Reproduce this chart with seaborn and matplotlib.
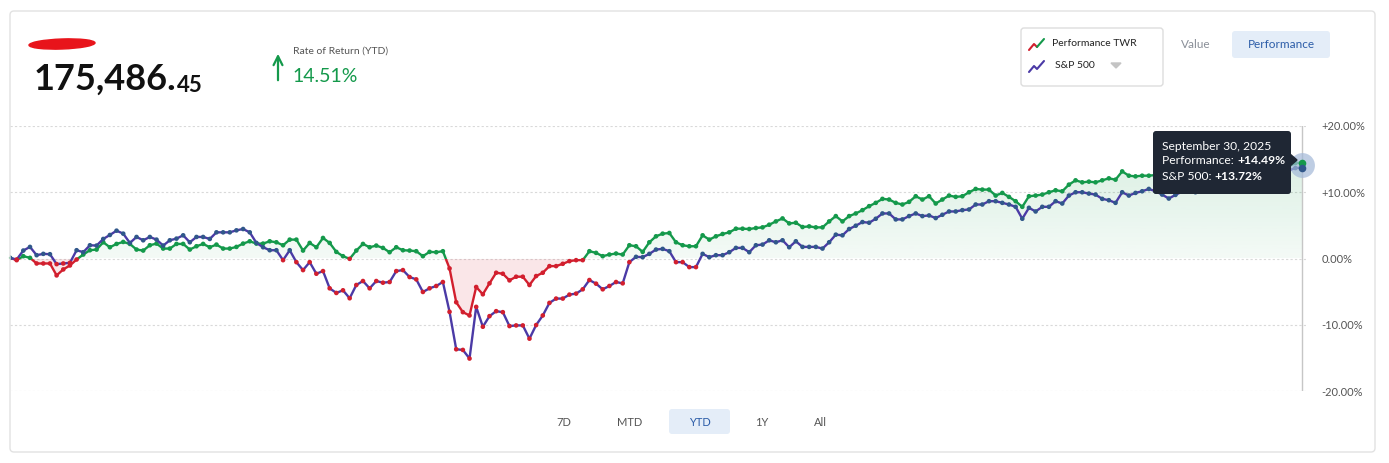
import numpy as np
import pandas as pd
import seaborn as sns
import matplotlib.pyplot as plt
from matplotlib.patches import FancyBboxPatch, Rectangle, Ellipse, Polygon, FancyArrowPatch
from matplotlib.path import Path

# Performance TWR (%), one value per trading day
twr = [0.1, -0.25, 0.35, 0.1, -0.75, -0.75, -0.75, -2.55, -1.65, -1.05,
       -0.15, 0.6, 1.25, 1.35, 2.45, 1.7, 2.2, 2.5, 2.2, 1.35,
       1.2, 2.0, 2.25, 1.5, 1.5, 2.2, 2.2, 1.35, 1.85, 2.2,
       1.7, 2.1, 1.5, 1.5, 1.75, 2.25, 2.6, 2.25, 2.25, 2.6,
       2.45, 2.0, 2.85, 2.85, 1.2, 2.35, 1.7, 3.1, 2.35, 1.0,
       0.35, -0.05, 1.2, 2.2, 1.7, 1.95, 1.6, 0.95, 1.7, 1.25,
       1.2, 1.1, 0.35, 1.0, 0.95, 1.1, -1.5, -6.6,
       -8.1, -8.6, -4.3, -5.4, -3.75, -2.15, -2.3, -3.3, -2.75, -2.75,
       -4.0, -2.65, -2.15, -1.15, -1.15, -0.8, -0.4, -0.25, -0.25, 1.1,
       0.85, 0.35, 0.6, 0.75, 0.6, 2.0, 1.85, 1.0, 2.45, 3.35,
       3.75, 3.85, 2.45, 2.0, 1.85, 1.85, 3.5, 2.85, 3.35, 3.7,
       3.95, 4.5, 4.5, 4.45, 4.6, 4.7, 5.1, 5.6, 6.05, 5.3,
       5.4, 4.75, 4.85, 4.7, 4.7, 5.6, 6.4, 5.6, 6.4, 6.8,
       7.3, 7.9, 8.4,
       9.0, 8.9, 8.4, 8.15, 8.55, 9.4, 8.9, 9.4, 8.3, 8.9,
       9.5, 9.3, 9.4, 10.0, 10.5, 10.4, 10.4, 9.5, 9.9, 9.3,
       8.65, 7.8, 9.4, 9.5, 9.65, 10.0, 10.3, 10.15, 11.15, 11.8,
       11.5, 11.6, 11.5, 11.8, 12.1, 11.9, 13.15, 12.5, 12.4, 12.5,
       12.5, 12.6, 12.4, 12.7,
       12.6, 12.5, 12.8, 12.6, 12.9, 13.1, 12.8, 13.0, 13.3, 13.1,
       13.4, 13.2, 13.5, 13.7, 13.5, 13.6, 13.8,
       13.9, 14.4, 14.49]

# S&P 500 (%) over the same days
spx = [0.1, -0.15, 1.2, 1.75, 0.5, 0.7, 0.65, -0.85, -0.75, -0.65,
       1.25, 0.95, 2.0, 1.95, 2.95, 3.55, 4.2, 3.75, 2.35, 3.25,
       2.75, 3.25, 2.85, 1.95, 2.75, 3.0, 3.5, 2.45, 3.25, 3.25,
       2.95, 3.95, 3.95, 3.95, 4.25, 4.45, 3.95, 2.35, 1.7, 1.25,
       1.25, -0.25, 1.25, -0.55, -1.75, -0.55, -2.3, -1.9, -4.5, -5.2,
       -4.8, -6.0, -4.0, -3.4, -4.5, -3.4, -3.65, -3.55, -1.9, -1.75,
       -2.8, -3.15, -5.05, -4.5, -4.15, -3.55, -8.05, -13.7,
       -13.8, -15.1, -7.3, -10.3, -8.7, -7.95, -8.1, -10.2, -10.1, -10.1,
       -12.1, -10.05, -8.6, -6.7, -6.05, -6.05, -5.45, -5.3, -4.65, -3.25,
       -3.8, -4.65, -4.15, -3.55, -3.75, -0.55, 0.25, 0.2, 0.7, 1.35,
       1.45, 1.1, -0.55, -0.55, -1.3, -1.3, 0.7, 0.2, 0.5, 0.5,
       0.95, 1.6, 1.6, 0.95, 2.0, 2.1, 2.75, 2.45, 2.75, 1.7,
       2.6, 1.75, 1.75, 1.75, 1.5, 2.45, 3.6, 3.5, 4.45, 4.95,
       5.5, 5.4, 6.0,
       6.8, 6.8, 5.9, 5.9, 6.4, 6.8, 6.4, 6.5, 6.1, 6.6,
       7.1, 7.1, 7.3, 7.4, 8.15, 8.15, 8.65, 8.65, 8.4, 8.15,
       7.8, 6.0, 7.65, 7.1, 7.8, 7.8, 8.65, 8.3, 9.5, 10.0,
       10.0, 9.8, 9.65, 9.0, 8.8, 8.4, 10.0, 9.5, 9.9, 10.15,
       10.5, 10.15, 9.65, 9.05,
       9.6, 10.1, 10.4, 10.0, 10.6, 10.9, 10.7, 11.2, 11.6, 11.4,
       11.9, 12.2, 12.0, 12.4, 12.8, 12.6, 13.0,
       13.3, 13.65, 13.72]

y_ticks = [-20, -10, 0, 10, 20]
y_tick_labels = ["-20.00%", "-10.00%", "0.00%", "+10.00%", "+20.00%"]
range_buttons = ["7D", "MTD", "YTD", "1Y", "All"]

GREEN = "#14994b"
RED = "#d21f2e"
PURPLE = "#4b3aa6"
SPX_DOT = "#30578a"
BLUE_TXT = "#2b5ca8"
BTN_BG = "#e4edf8"

df = pd.DataFrame({"day": np.arange(len(twr)), "twr": twr, "spx": spx})
last = df["day"].iloc[-1]

sns.set_style("white")
plt.rcParams["font.family"] = ["Lato", "DejaVu Sans"]

W, H = 1389, 463
fig = plt.figure(figsize=(W / 100, H / 100), dpi=100)

# chart area in pixels: x 10..1306, y 126 (+20%) .. 391 (-20%)
ax = fig.add_axes([10 / W, (H - 391) / H, 1296 / W, 265 / H])
step = 1292 / last

# light fills between TWR line and zero
pos = df["twr"].clip(lower=0)
neg = df["twr"].clip(upper=0)
poly = ax.fill_between(df["day"], pos, 0, facecolor="none", lw=0)
grad = np.zeros((256, 1, 4))
grad[:, 0, :3] = (0.08, 0.6, 0.29)
grad[:, 0, 3] = np.linspace(0.15, 0.05, 256)
clip = Path.make_compound_path(*poly.get_paths())
im = ax.imshow(grad, extent=[0, last, 0, 15], aspect="auto", origin="upper", zorder=1)
im.set_clip_path(clip, transform=ax.transData)
ax.fill_between(df["day"], neg, 0, color=RED, alpha=0.11, lw=0, zorder=1)
ax.set_xlim(0, 1296 / step)
ax.set_ylim(-20, 20)

# TWR line: green above zero, red below
sns.lineplot(data=df, x="day", y="twr", ax=ax, color=GREEN, lw=1.7, zorder=3)
ax.lines[-1].set_clip_path(Rectangle((-5, 0), 300, 30, transform=ax.transData))
sns.lineplot(data=df, x="day", y="twr", ax=ax, color=RED, lw=1.7, zorder=3)
ax.lines[-1].set_clip_path(Rectangle((-5, -30), 300, 30, transform=ax.transData))
twr_dots = np.where(df["twr"] >= 0, GREEN, RED)
ax.scatter(df["day"], df["twr"], c=twr_dots, s=11, lw=0, zorder=4)

# S&P line
sns.lineplot(data=df, x="day", y="spx", ax=ax, color=PURPLE, lw=1.7, zorder=5)
spx_dots = np.where(df["spx"] >= 0, SPX_DOT, RED)
ax.scatter(df["day"], df["spx"], c=spx_dots, s=11, lw=0, zorder=6)

# hover marker on last day
ax.axvline(last, color="#c6c6c6", lw=1, zorder=2)
ax.scatter([last], [(twr[-1] + spx[-1]) / 2], s=320, color="#a3b8d8", alpha=0.7, lw=0,
           zorder=7, clip_on=False)
ax.scatter([last], [twr[-1]], s=30, color=GREEN, lw=0, zorder=8, clip_on=False)
ax.scatter([last], [spx[-1]], s=30, color=SPX_DOT, lw=0, zorder=8, clip_on=False)

ax.set_yticks(y_ticks)
ax.set_yticklabels(y_tick_labels)
ax.yaxis.tick_right()
ax.tick_params(axis="y", length=0, pad=11, labelsize=8, labelcolor="#555555")
ax.set_xticks([])
ax.set_xlabel("")
ax.set_ylabel("")
ax.grid(axis="y", color="#d9d9d9", ls=(0, (2, 2)), lw=0.8)
ax.set_axisbelow(True)
for s in ax.spines.values():
    s.set_visible(False)

# overlay in pixel coordinates for the page furniture
ui = fig.add_axes([0, 0, 1, 1])
ui.set_xlim(0, W)
ui.set_ylim(H, 0)
ui.axis("off")

ui.add_patch(FancyBboxPatch((10, 11), 1365, 441, boxstyle="round,pad=0,rounding_size=4",
                            fc="none", ec="#e2e2e2", lw=1))

# header
ui.add_patch(Ellipse((62, 44), 66, 10, angle=-2, color="#e8141b"))
t = ui.text(34, 90, "175,486.", fontsize=26, fontweight="bold", color="#111111", va="baseline")
ui.annotate("45", xy=(1, 0), xycoords=t, fontsize=16, fontweight="bold", color="#111111",
            va="bottom", ha="left")
ui.add_patch(FancyArrowPatch((278, 83), (278, 51), arrowstyle="->", mutation_scale=16,
                             color=GREEN, lw=1.6))
ui.text(293, 51, "Rate of Return (YTD)", fontsize=7.5, color="#555555", va="center")
ui.text(292, 77, "14.51%", fontsize=14, color=GREEN, va="center")

# legend box
ui.add_patch(FancyBboxPatch((1021, 28), 142, 58, boxstyle="round,pad=0,rounding_size=3",
                            fc="white", ec="#dddddd", lw=1))
ui.plot([1029, 1034, 1037], [50, 44, 47], color=RED, lw=1.5)
ui.plot([1037, 1044], [47, 39], color=GREEN, lw=1.5)
ui.plot([1029, 1034, 1037, 1044], [72, 66, 69, 61], color=PURPLE, lw=1.5)
ui.text(1052, 44, "Performance TWR", fontsize=7.5, color="#222222", va="center")
ui.text(1055, 66, "S&P 500", fontsize=7.5, color="#222222", va="center")
ui.add_patch(Polygon([[1111, 63], [1121, 63], [1116, 68]], color="#c4c4c4"))

ui.text(1196, 45, "Value", fontsize=8.5, color="#8a8f98", ha="center", va="center")
ui.add_patch(FancyBboxPatch((1232, 31), 98, 27, boxstyle="round,pad=0,rounding_size=3",
                            fc=BTN_BG, ec="none"))
ui.text(1281, 45, "Performance", fontsize=8.5, color=BLUE_TXT, ha="center", va="center")

# range buttons
btn_x = [564, 630, 700, 762, 820]
ui.add_patch(FancyBboxPatch((669, 409), 61, 25, boxstyle="round,pad=0,rounding_size=3",
                            fc=BTN_BG, ec="none"))
for label, bx in zip(range_buttons, btn_x):
    ui.text(bx, 422, label, fontsize=8, ha="center", va="center",
            color=BLUE_TXT if label == "YTD" else "#555555")

# tooltip
ui.add_patch(FancyBboxPatch((1153, 131), 138, 63, boxstyle="round,pad=0,rounding_size=3",
                            fc="#1f2734", ec="none", zorder=10))
ui.add_patch(Polygon([[1290, 154], [1297, 160], [1290, 166]], color="#1f2734", zorder=10))
ui.text(1162, 147, "September 30, 2025", fontsize=8.7, color="white", va="center", zorder=11)
t1 = ui.text(1162, 161, "Performance: ", fontsize=8.7, color="white", va="center", zorder=11)
ui.annotate(f"+{twr[-1]:.2f}%", xy=(1, 0.5), xycoords=t1, fontsize=8.7, color="white",
            fontweight="bold", va="center", ha="left", zorder=11)
t2 = ui.text(1162, 176, "S&P 500: ", fontsize=8.7, color="white", va="center", zorder=11)
ui.annotate(f"+{spx[-1]:.2f}%", xy=(1, 0.5), xycoords=t2, fontsize=8.7, color="white",
            fontweight="bold", va="center", ha="left", zorder=11)

fig.savefig("out.png", dpi=100, facecolor="white")
